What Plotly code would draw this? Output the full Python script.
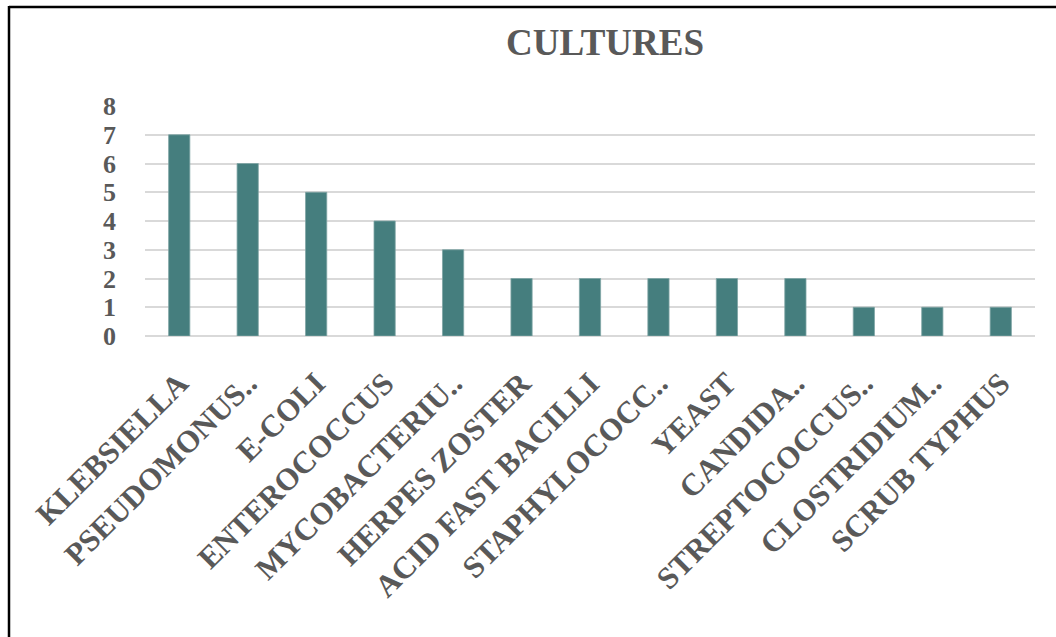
import plotly.graph_objects as go

# Culture results: organism and number of positive cultures
organisms = [
    "KLEBSIELLA", "PSEUDOMONUS..", "E-COLI", "ENTEROCOCCUS", "MYCOBACTERIU..",
    "HERPES ZOSTER", "ACID FAST BACILLI", "STAPHYLOCOCC..", "YEAST", "CANDIDA..",
    "STREPTOCOCCUS..", "CLOSTRIDIUM..", "SCRUB TYPHUS",
]
counts = [7, 6, 5, 4, 3, 2, 2, 2, 2, 2, 1, 1, 1]
y_ticks = [0, 1, 2, 3, 4, 5, 6, 7, 8]

W, H = 1056, 637
L, R, T, B = 145, 21, 106, 301
pw, ph = W - L - R, H - T - B

TEXT = "#595959"
FONT = "Liberation Serif"

fig = go.Figure(
    go.Bar(
        x=organisms,
        y=counts,
        marker=dict(color="#457E7E", line=dict(color="#7FA5A5", width=0.8)),
        width=0.31,
    )
)

fig.update_layout(
    width=W,
    height=H,
    margin=dict(l=L, r=R, t=T, b=B, autoexpand=False),
    paper_bgcolor="white",
    plot_bgcolor="white",
    showlegend=False,
    font=dict(family=FONT, color=TEXT),
    title=dict(
        text="<b>CULTURES</b>",
        x=605 / W,
        xanchor="center",
        y=1 - 42 / H,
        yanchor="middle",
        font=dict(family=FONT, size=37, color=TEXT),
    ),
    xaxis=dict(
        tickangle=-45,
        tickfont=dict(family=FONT, size=31, color=TEXT),
        tickprefix="<b>",
        ticksuffix="</b>",
        showgrid=False,
        showline=False,
        zeroline=False,
        ticks="",
        ticklabelstandoff=22,
    ),
    yaxis=dict(
        range=[0, 8],
        tickvals=y_ticks,
        ticktext=[f"<b>{v}</b>" for v in y_ticks],
        tickfont=dict(family=FONT, size=26, color=TEXT),
        showgrid=True,
        gridcolor="#D9D9D9",
        gridwidth=1.5,
        zeroline=True,
        zerolinecolor="#D9D9D9",
        zerolinewidth=1.5,
        showline=False,
        ticks="",
        ticklabelstandoff=28,
    ),
)

# Outer frame: top and left edges of the chart border
def px_to_paper_x(px):
    return (px - L) / pw

def px_to_paper_y(py):
    return (H - B - py) / ph

fig.add_shape(
    type="line", xref="paper", yref="paper",
    x0=px_to_paper_x(9), x1=px_to_paper_x(W + 10),
    y0=px_to_paper_y(7), y1=px_to_paper_y(7),
    line=dict(color="black", width=2.5),
)
fig.add_shape(
    type="line", xref="paper", yref="paper",
    x0=px_to_paper_x(9), x1=px_to_paper_x(9),
    y0=px_to_paper_y(6), y1=px_to_paper_y(H + 10),
    line=dict(color="black", width=2.5),
)

fig.write_html("out.html")
